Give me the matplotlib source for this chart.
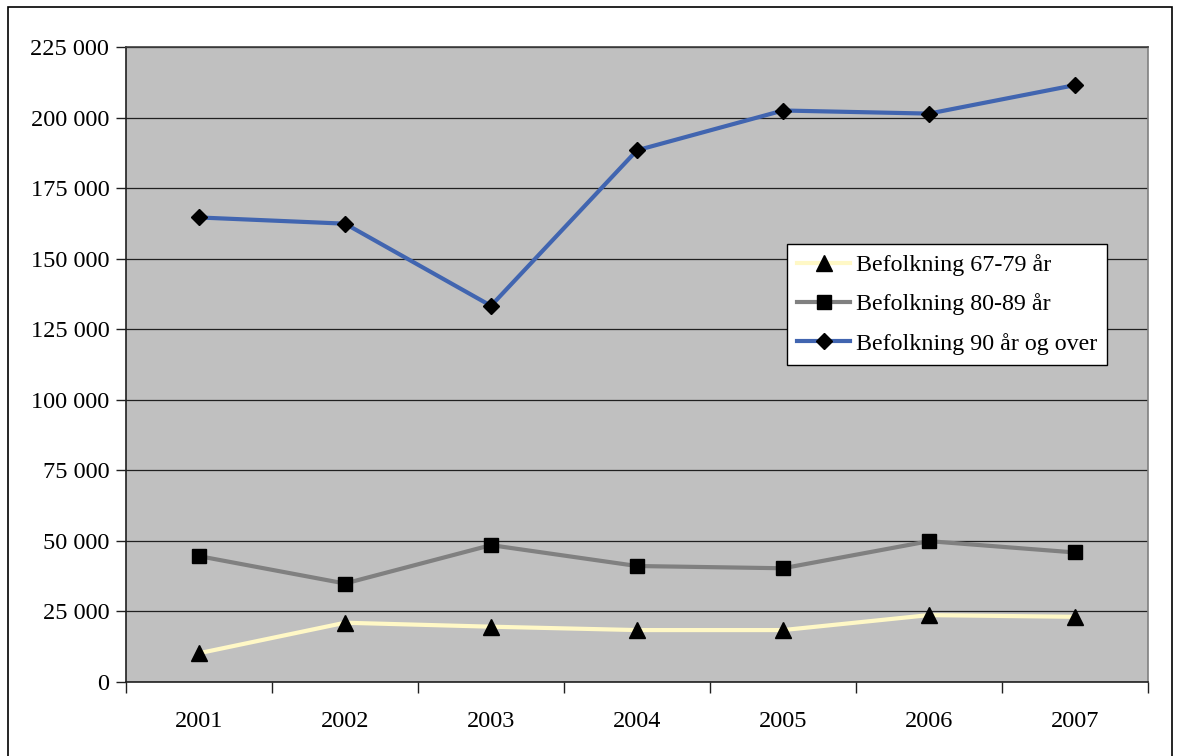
import matplotlib
matplotlib.use("Agg")
import matplotlib.pyplot as plt
from matplotlib.patches import Rectangle
from matplotlib.ticker import FuncFormatter, MultipleLocator, FixedLocator

years = ["2001", "2002", "2003", "2004", "2005", "2006", "2007"]
pop_67_79 = [10200, 21000, 19600, 18400, 18400, 23700, 23100]
pop_80_89 = [44600, 34900, 48500, 41100, 40300, 49900, 45900]
pop_90_over = [164600, 162400, 133300, 188400, 202500, 201400, 211500]
labels = ["Befolkning 67-79 år", "Befolkning 80-89 år", "Befolkning 90 år og over"]

plt.rcParams['font.family'] = ['Liberation Serif', 'DejaVu Serif']

W, H = 1177, 756
fig = plt.figure(figsize=(W / 100, H / 100), dpi=100)
fig.patch.set_facecolor("white")

# outer chart border
fig.add_artist(Rectangle((8 / W, -0.01), (1172 - 8) / W, 1 - 7 / H + 0.01,
                         transform=fig.transFigure, fill=False,
                         edgecolor="black", linewidth=1.2))

left, right, top, bottom = 126, 1148, 47, 682
ax = fig.add_axes([left / W, 1 - bottom / H, (right - left) / W, (bottom - top) / H])
ax.set_facecolor("#C0C0C0")

x = list(range(len(years)))
ax.plot(x, pop_67_79, color="#FFF8C6", linewidth=3, marker="^", markersize=11,
        markerfacecolor="black", markeredgecolor="black", label=labels[0], zorder=3)
ax.plot(x, pop_80_89, color="#808080", linewidth=3, marker="s", markersize=9.5,
        markerfacecolor="black", markeredgecolor="black", label=labels[1], zorder=3)
ax.plot(x, pop_90_over, color="#4165B0", linewidth=3, marker="D", markersize=8.5,
        markerfacecolor="black", markeredgecolor="black", label=labels[2], zorder=3)

ax.set_xlim(-0.5, len(years) - 0.5)
ax.set_ylim(0, 225000)
ax.yaxis.set_major_locator(MultipleLocator(25000))
ax.yaxis.set_major_formatter(FuncFormatter(lambda v, p: f"{int(v):,}".replace(",", " ")))
ax.grid(axis="y", color="#202020", linewidth=0.9)
ax.set_axisbelow(True)

ax.xaxis.set_major_locator(FixedLocator([i - 0.5 for i in range(len(years) + 1)]))
ax.xaxis.set_major_formatter(FuncFormatter(lambda v, p: ""))
ax.xaxis.set_minor_locator(FixedLocator(x))
ax.set_xticklabels(years, minor=True)
ax.tick_params(axis="x", which="minor", length=0, pad=21, labelsize=17.5)
ax.tick_params(axis="x", which="major", direction="out", length=8, width=1, color="#202020")
ax.tick_params(axis="y", direction="out", length=7, width=1, color="#202020",
               labelsize=17.5, pad=5)

for s in ["left", "bottom"]:
    ax.spines[s].set_color("#202020")
    ax.spines[s].set_linewidth(1.2)
ax.spines["right"].set_color("#808080")
ax.spines["right"].set_linewidth(1.2)
ax.spines["top"].set_color("#404040")
ax.spines["top"].set_linewidth(1.2)

leg = ax.legend(loc="upper left", bbox_to_anchor=((787 - left) / (right - left),
                                                 1 - (244 - top) / (bottom - top)),
                fontsize=17.3, frameon=True, fancybox=False, edgecolor="black",
                framealpha=1, handlelength=2.2, labelspacing=0.72, borderpad=0.42,
                handletextpad=0.25, borderaxespad=0)
leg.get_frame().set_linewidth(1.0)

fig.savefig("out.png", dpi=100)
